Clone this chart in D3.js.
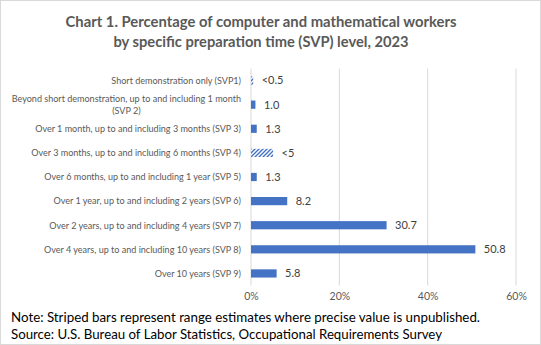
<!DOCTYPE html>
<html><head><meta charset="utf-8">
<script src="https://cdn.jsdelivr.net/npm/d3@7"></script>
<style>body{margin:0;background:#fff;} svg{display:block}</style>
</head><body>
<svg id="c" width="541" height="345"></svg>
<script>
// ---- data ----
const categories = [
  "Short demonstration only (SVP1)",
  "Beyond short demonstration, up to and including 1 month (SVP 2)",
  "Over 1 month, up to and including 3 months (SVP 3)",
  "Over 3 months, up to and including 6 months (SVP 4)",
  "Over 6 months, up to and including 1 year (SVP 5)",
  "Over 1 year, up to and including 2 years (SVP 6)",
  "Over 2 years, up to and including 4 years (SVP 7)",
  "Over 4 years, up to and including 10 years (SVP 8)",
  "Over 10 years (SVP 9)"
];
const values = [0.5, 1.0, 1.3, 5, 1.3, 8.2, 30.7, 50.8, 5.8];
const valueLabels = ["<0.5", "1.0", "1.3", "<5", "1.3", "8.2", "30.7", "50.8", "5.8"];
const striped = [true, false, false, true, false, false, false, false, false];
const xTicks = [0, 20, 40, 60];
const titleLines = [
  "Chart 1. Percentage of computer and mathematical workers",
  "by specific preparation time (SVP) level, 2023"
];
const noteLines = [
  "Note: Striped bars represent range estimates where precise value is unpublished.",
  "Source: U.S. Bureau of Labor Statistics, Occupational Requirements Survey"
];

// ---- drawing ----
const W = 541, H = 345;
const FONT = "Lato, 'Open Sans', sans-serif";
const BLUE = "#4472C4";
const svg = d3.select("#c").style("font-family", FONT);

svg.append("rect").attr("x", 0.5).attr("y", 0.5).attr("width", W - 1).attr("height", H - 1)
  .attr("fill", "#fff").attr("stroke", "#D9D9D9");

const defs = svg.append("defs");
const pat = defs.append("pattern").attr("id", "stripe").attr("patternUnits", "userSpaceOnUse")
  .attr("width", 4).attr("height", 4);
pat.append("rect").attr("width", 4).attr("height", 4).attr("fill", "#fff");
pat.append("path").attr("d", "M-1,1 l2,-2 M0,4 l4,-4 M3,5 l2,-2")
  .attr("stroke", BLUE).attr("stroke-width", 1.4);

const plotTop = 68.5, plotBottom = 285.5;
const x = d3.scaleLinear().domain([0, 60]).range([251, 516]);
const y = d3.scaleBand().domain(categories).range([plotTop, plotBottom])
  .paddingInner(0.66).paddingOuter(0.33);

// title
svg.append("g").selectAll("text").data(titleLines).join("text")
  .attr("x", 261).attr("y", (d, i) => 27 + i * 20)
  .attr("text-anchor", "middle").attr("fill", "#595959")
  .attr("font-weight", "bold").attr("font-size", 15.5)
  .attr("textLength", (d, i) => [391, 295][i]).attr("lengthAdjust", "spacingAndGlyphs")
  .text(d => d);

// gridlines
svg.append("g").selectAll("line").data(xTicks).join("line")
  .attr("x1", d => x(d)).attr("x2", d => x(d))
  .attr("y1", plotTop).attr("y2", plotBottom)
  .attr("stroke", "#D9D9D9").attr("stroke-width", 1);

// x axis tick labels
const xAxis = d3.axisBottom(x).tickValues(xTicks).tickSize(0).tickPadding(0)
  .tickFormat(d => d + "%");
const gx = svg.append("g").attr("transform", `translate(0,${plotBottom + 12})`).call(xAxis);
gx.select(".domain").remove();
gx.selectAll("text").attr("fill", "#595959").attr("font-size", 10.5)
  .attr("font-family", FONT).attr("dy", "0.2em");

// bars
svg.append("g").selectAll("rect").data(categories).join("rect")
  .attr("x", x(0))
  .attr("y", d => y(d))
  .attr("width", (d, i) => x(values[i]) - x(0))
  .attr("height", y.bandwidth())
  .attr("fill", (d, i) => striped[i] ? "url(#stripe)" : BLUE);

// value labels
svg.append("g").selectAll("text").data(categories).join("text")
  .attr("x", (d, i) => x(values[i]) + 8.5)
  .attr("y", d => y(d) + y.bandwidth() / 2)
  .attr("dy", "0.35em")
  .attr("fill", "#404040").attr("font-size", 11)
  .text((d, i) => valueLabels[i]);

// category labels (wrapped, right aligned, centered lines), fitted to reference width
const labelRight = 241, maxW = 232;
const fs = 9.5;
const gl = svg.append("g").attr("fill", "#595959").attr("font-size", fs);
const measure = s => { const t = gl.append("text").text(s); const w = t.node().getComputedTextLength(); t.remove(); return w; };
const scale = 197 / measure(categories[7]);
categories.forEach((c, i) => {
  const words = c.split(" ");
  const lines = [];
  let cur = "";
  words.forEach(w => {
    const test = cur ? cur + " " + w : w;
    if (measure(test) * scale > maxW && cur) { lines.push(cur); cur = w; }
    else cur = test;
  });
  lines.push(cur);
  const cy = y(c) + y.bandwidth() / 2;
  const lh = 12.3;
  const widths = lines.map(l => measure(l) * scale);
  const maxLine = d3.max(widths);
  lines.forEach((l, k) => {
    const yy = cy + (k - (lines.length - 1) / 2) * lh;
    gl.append("text")
      .attr("x", lines.length === 1 ? labelRight : labelRight - maxLine / 2)
      .attr("y", yy).attr("dy", "0.35em")
      .attr("text-anchor", lines.length === 1 ? "end" : "middle")
      .attr("textLength", widths[k]).attr("lengthAdjust", "spacingAndGlyphs")
      .text(l);
  });
});

// notes
svg.append("g").selectAll("text").data(noteLines).join("text")
  .attr("x", 11).attr("y", (d, i) => 322 + i * 17)
  .attr("fill", "#000").attr("font-size", 13.5)
  .attr("textLength", (d, i) => [469, 431][i]).attr("lengthAdjust", "spacingAndGlyphs")
  .text(d => d);
</script>
</body></html>
